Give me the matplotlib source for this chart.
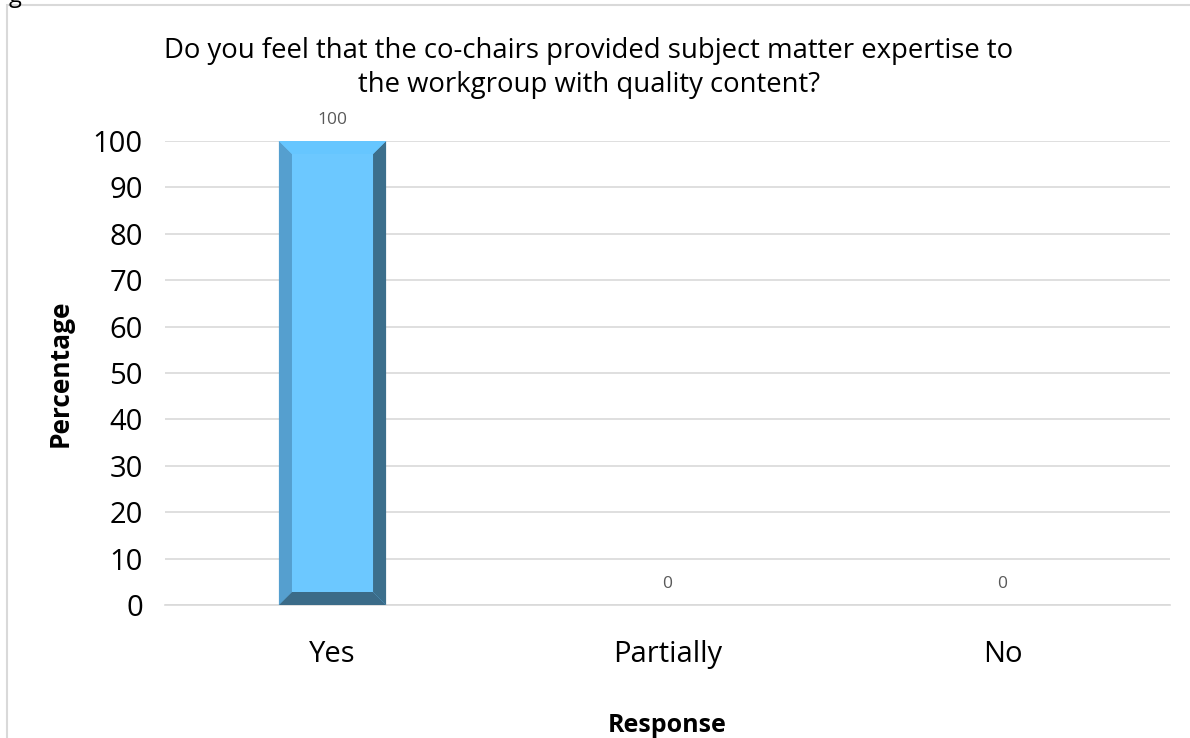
import matplotlib.pyplot as plt
from matplotlib.patches import Polygon, Rectangle

responses = ["Yes", "Partially", "No"]
percentages = [100, 0, 0]
yticks = list(range(0, 101, 10))
title = "Do you feel that the co-chairs provided subject matter expertise to\nthe workgroup with quality content?"

plt.rcParams['font.family'] = ['Open Sans', 'DejaVu Sans']

fig = plt.figure(figsize=(11.9, 7.38), dpi=100)
ax = fig.add_axes([165/1190, 1-605/738, 1005/1190, 464/738])

# outer chart frame (cut by the image edges)
fig.patches.append(Rectangle((7/1190, -0.05), 1.2, 1.05 - 5/738, transform=fig.transFigure,
                             fill=False, edgecolor="#d9d9d9", linewidth=1.5))
fig.text(9/1190, 1 + 4/738, "g", fontsize=17, ha="left", va="center")

bw = 0.32
bars = ax.bar(range(len(responses)), percentages, width=bw, color="#6CC8FF", zorder=3)

# bevel faces
bx = 0.039
by = 2.8
for b in bars:
    h = b.get_height()
    if h <= 0:
        continue
    x0 = b.get_x()
    x1 = x0 + b.get_width()
    faces = [
        ([(x0, 0), (x0 + bx, by), (x0 + bx, h - by), (x0, h)], "#559FCF"),
        ([(x1, 0), (x1 - bx, by), (x1 - bx, h - by), (x1, h)], "#3C6F8C"),
        ([(x0, h), (x0 + bx, h - by), (x1 - bx, h - by), (x1, h)], "#66C6FF"),
        ([(x0, 0), (x0 + bx, by), (x1 - bx, by), (x1, 0)], "#3B6B88"),
    ]
    for pts, c in faces:
        ax.add_patch(Polygon(pts, closed=True, facecolor=c, edgecolor="none", zorder=4))

for i, v in enumerate(percentages):
    ax.text(i, v + 2.8, str(v), ha="center", va="bottom", fontsize=12.5, color="#595959")

ax.set_xlim(-0.5, 2.5)
ax.set_ylim(0, 100)
ax.set_yticks(yticks)
ax.set_xticks(range(len(responses)))
ax.set_xticklabels(responses)
ax.tick_params(axis="both", length=0, labelsize=21)
ax.tick_params(axis="x", pad=25)
ax.tick_params(axis="y", pad=16)
ax.grid(axis="y", color="#d9d9d9", linewidth=1.2, zorder=0)
ax.set_axisbelow(True)
for s in ["top", "right", "left"]:
    ax.spines[s].set_visible(False)
ax.spines["bottom"].set_color("#d9d9d9")
ax.spines["bottom"].set_linewidth(1.2)

ax.set_ylabel("Percentage", fontsize=19, fontweight="bold", labelpad=14)
ax.set_xlabel("Response", fontsize=18, fontweight="bold", labelpad=32)
fig.text(589/1190, 1-68/738, title, ha="center", va="center", fontsize=19.8, linespacing=1.32)

fig.savefig("out.png", dpi=100)
